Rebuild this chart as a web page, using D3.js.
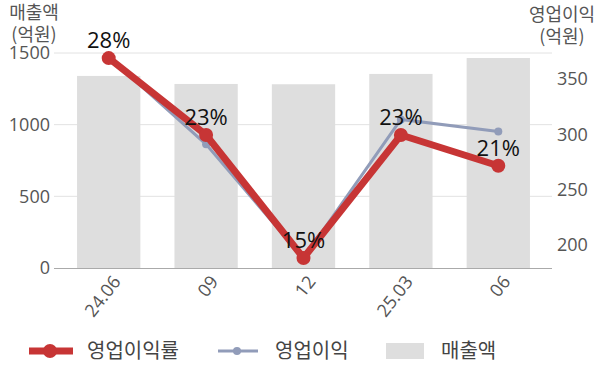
<!DOCTYPE html>
<html>
<head>
<meta charset="utf-8">
<script src="https://cdn.jsdelivr.net/npm/d3@7"></script>
<style>
  body { margin: 0; background: #fff; }
  svg { font-family: "Noto Sans CJK KR", "Noto Sans", sans-serif; }
</style>
</head>
<body>
<svg id="chart" width="600" height="383"></svg>
<script>
// data
let periods = ['24.06', '09', '12', '25.03', '06'];
let sales = [1340, 1284, 1282, 1354, 1465];        // 매출액 (억원)
let profit = [370, 291, 188, 313.5, 302.7];        // 영업이익 (억원)
let margin = [28, 23, 15, 23, 21];                 // 영업이익률 (%)
let leftTicks = [0, 500, 1000, 1500];
let rightTicks = [200, 250, 300, 350];

let svg = d3.select('#chart');

// plot area
let margL = 54;
let margR = 48;
let margT = 53;
let plotBottom = 268;
let width = 600;

let xScale = d3.scaleBand()
    .domain(periods)
    .range([60, 547])
    .paddingInner(0.35)
    .paddingOuter(0.175);

let yLeft = d3.scaleLinear().domain([0, 1500]).range([plotBottom, margT]);
let yRight = d3.scaleLinear().domain([179.2, 373.6]).range([plotBottom, margT]);
let yMargin = d3.scaleLinear().domain([14.35, 28.33]).range([plotBottom, margT]);

let red = '#c73535';
let blue = '#919cb9';
let barColor = '#dedede';
let tickColor = '#555';
let numFont = '"Open Sans", "Noto Sans", sans-serif';

// gridlines
svg.append('g')
    .selectAll('line')
    .data(leftTicks.filter(d => d > 0))
    .enter()
    .append('line')
    .attr('x1', margL)
    .attr('x2', width - margR)
    .attr('y1', d => yLeft(d))
    .attr('y2', d => yLeft(d))
    .attr('stroke', '#e2e2e2')
    .attr('stroke-width', 1);

// bars
svg.append('g')
    .selectAll('rect')
    .data(sales)
    .enter()
    .append('rect')
    .attr('x', (d, i) => xScale(periods[i]))
    .attr('y', d => yLeft(d))
    .attr('width', xScale.bandwidth())
    .attr('height', d => plotBottom - yLeft(d))
    .attr('fill', barColor);

// baseline
svg.append('line')
    .attr('x1', margL)
    .attr('x2', width - margR)
    .attr('y1', plotBottom + 0.5)
    .attr('y2', plotBottom + 0.5)
    .attr('stroke', '#aaa')
    .attr('stroke-width', 1.2);

// left axis
let leftAxis = d3.axisLeft(yLeft).tickValues(leftTicks).tickFormat(d3.format('d'))
    .tickSize(0).tickPadding(0);
let gl = svg.append('g').attr('transform', 'translate(50,0)').call(leftAxis);
gl.select('.domain').remove();
gl.selectAll('text').attr('fill', tickColor).style('font-size', '18px')
    .style('font-family', numFont);

// right axis
let rightAxis = d3.axisRight(yRight).tickValues(rightTicks).tickFormat(d3.format('d'))
    .tickSize(0).tickPadding(0);
let gr = svg.append('g').attr('transform', 'translate(557,0)').call(rightAxis);
gr.select('.domain').remove();
gr.selectAll('text').attr('fill', tickColor).style('font-size', '18px')
    .style('font-family', numFont);

// x axis labels
let xAxis = d3.axisBottom(xScale).tickSize(0).tickPadding(0);
let gx = svg.append('g').attr('transform', 'translate(0,' + plotBottom + ')').call(xAxis);
gx.select('.domain').remove();
gx.selectAll('text')
    .attr('fill', tickColor)
    .style('font-size', '18px')
    .style('font-family', numFont)
    .attr('text-anchor', 'end')
    .attr('dy', null)
    .attr('y', 0)
    .attr('transform', 'translate(13,14) rotate(-52)');

// axis titles
let titleStyle = g => g.attr('fill', tickColor).style('font-size', '18px').attr('text-anchor', 'middle');
svg.append('text').attr('x', 34).attr('y', 19).text('매출액').call(titleStyle);
svg.append('text').attr('x', 34).attr('y', 41).text('(억원)').call(titleStyle);
svg.append('text').attr('x', 562).attr('y', 21).text('영업이익').call(titleStyle);
svg.append('text').attr('x', 562).attr('y', 43).text('(억원)').call(titleStyle);

let cx = i => xScale(periods[i]) + xScale.bandwidth() / 2;

// profit line
let profitLine = d3.line()
    .x((d, i) => cx(i))
    .y(d => yRight(d));
svg.append('path')
    .datum(profit)
    .attr('d', profitLine)
    .attr('fill', 'none')
    .attr('stroke', blue)
    .attr('stroke-width', 3);
svg.append('g')
    .selectAll('circle')
    .data(profit)
    .enter()
    .append('circle')
    .attr('cx', (d, i) => cx(i))
    .attr('cy', d => yRight(d))
    .attr('r', 4)
    .attr('fill', blue);

// margin line
let marginLine = d3.line()
    .x((d, i) => cx(i))
    .y(d => yMargin(d));
svg.append('path')
    .datum(margin)
    .attr('d', marginLine)
    .attr('fill', 'none')
    .attr('stroke', red)
    .attr('stroke-width', 7);
svg.append('g')
    .selectAll('circle')
    .data(margin)
    .enter()
    .append('circle')
    .attr('cx', (d, i) => cx(i))
    .attr('cy', d => yMargin(d))
    .attr('r', 7)
    .attr('fill', red);

// margin labels
svg.append('g')
    .selectAll('text')
    .data(margin)
    .enter()
    .append('text')
    .attr('x', (d, i) => cx(i))
    .attr('y', d => yMargin(d) - 10)
    .attr('text-anchor', 'middle')
    .style('font-size', '22px')
    .style('font-family', numFont)
    .attr('fill', '#111')
    .text(d => d + '%');

// legend
let legY = 351;
let legend = svg.append('g');
legend.append('line').attr('x1', 29).attr('x2', 73).attr('y1', legY).attr('y2', legY)
    .attr('stroke', red).attr('stroke-width', 7);
legend.append('circle').attr('cx', 50).attr('cy', legY).attr('r', 7).attr('fill', red);
legend.append('text').attr('x', 87).attr('y', legY + 7).text('영업이익률');

legend.append('line').attr('x1', 218).attr('x2', 258).attr('y1', legY).attr('y2', legY)
    .attr('stroke', blue).attr('stroke-width', 3);
legend.append('circle').attr('cx', 237).attr('cy', legY).attr('r', 4).attr('fill', blue);
legend.append('text').attr('x', 275).attr('y', legY + 7).text('영업이익');

legend.append('rect').attr('x', 386).attr('y', legY - 8).attr('width', 38).attr('height', 16)
    .attr('fill', barColor);
legend.append('text').attr('x', 441).attr('y', legY + 7).text('매출액');

legend.selectAll('text').attr('fill', '#444').style('font-size', '20px');
</script>
</body>
</html>
